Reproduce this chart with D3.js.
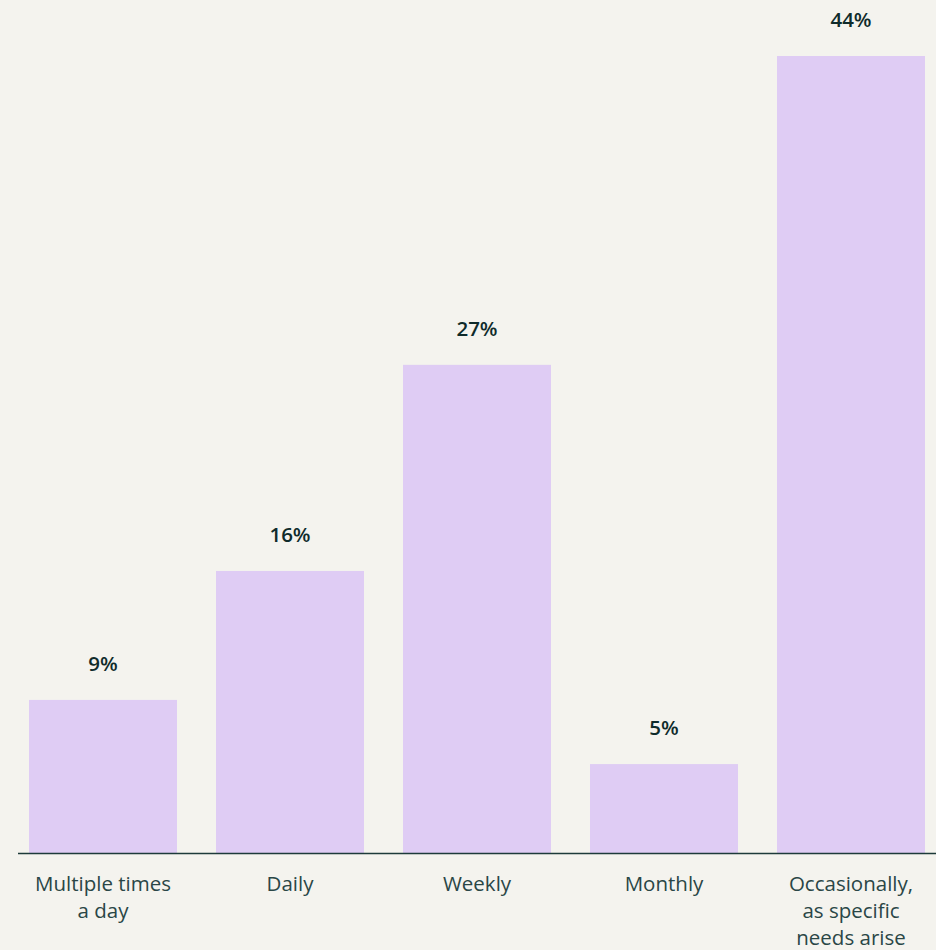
<!DOCTYPE html>
<html><head><meta charset="utf-8">
<script src="https://cdn.jsdelivr.net/npm/d3@7"></script>
<style>
html,body{margin:0;padding:0;background:#f4f3ee;}
svg{display:block;}
</style></head>
<body>
<svg id="chart" width="936" height="950"></svg>
<script>
const categories = [["Multiple times","a day"],["Daily"],["Weekly"],["Monthly"],["Occasionally,","as specific","needs arise"]];
const values = [8.45, 15.57, 26.95, 4.91, 44.0];
const valueLabels = ["9%","16%","27%","5%","44%"];

const svg = d3.select("#chart");
const baseY = 853;
const xb = d3.scaleBand().domain(d3.range(values.length)).range([29, 925]).paddingInner(39/187).paddingOuter(0);
const y = d3.scaleLinear().domain([0, 44]).range([baseY, 56]);
const font = "'Open Sans', 'Noto Sans', sans-serif";

svg.append("g").selectAll("rect").data(values).join("rect")
  .attr("x", (d,i)=>xb(i)).attr("width", xb.bandwidth())
  .attr("y", d=>y(d)).attr("height", d=>baseY - y(d))
  .attr("fill", "#dfccf4");

svg.append("line").attr("x1", 18).attr("x2", 936).attr("y1", baseY+0.5).attr("y2", baseY+0.5)
  .attr("stroke", "#1d3a3a").attr("stroke-width", 1.5);

svg.append("g").selectAll("text").data(values).join("text")
  .attr("x", (d,i)=>xb(i)+xb.bandwidth()/2)
  .attr("y", d=>y(d)-29)
  .attr("text-anchor","middle")
  .attr("font-family", font)
  .attr("font-size", 20.5).attr("font-weight", 600)
  .attr("fill", "#0f2b2b")
  .text((d,i)=>valueLabels[i]);

const cat = svg.append("g").selectAll("text").data(categories).join("text")
  .attr("x", (d,i)=>xb(i)+xb.bandwidth()/2)
  .attr("y", baseY + 38)
  .attr("text-anchor","middle")
  .attr("font-family", font)
  .attr("font-size", 20.5).attr("font-weight", 400)
  .attr("fill", "#2a4646");
cat.selectAll("tspan").data(d=>d).join("tspan")
  .attr("x", function(){ return d3.select(this.parentNode).attr("x"); })
  .attr("dy", (d,i)=> i===0 ? 0 : 27)
  .text(d=>d);
</script>
</body></html>
